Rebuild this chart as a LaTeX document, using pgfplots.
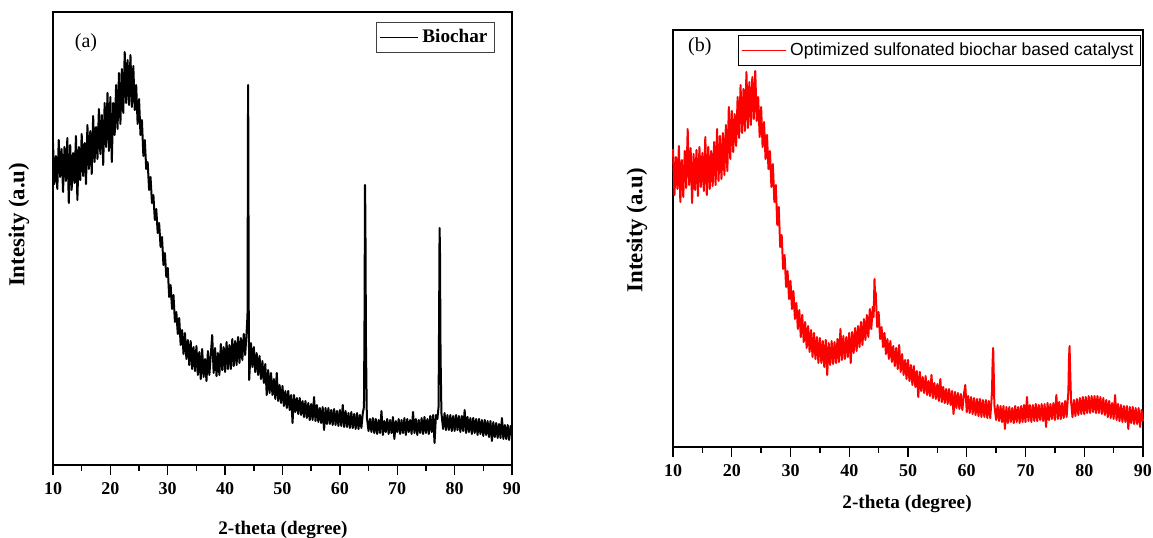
\documentclass[border=0pt]{standalone}
\usepackage{fontspec}
\setmainfont{Liberation Serif}
\newfontfamily\arialfont{Liberation Sans}
\usepackage{pgfplots}
\pgfplotsset{compat=1.18}
\pgfplotsset{
  xrdstyle/.style={
    scale only axis,
    xmin=10, xmax=90, ymin=0,
    xtick={10,20,...,90},
    minor x tick num=1,
    xtick pos=left,
    tick align=outside,
    major tick length=5pt, minor tick length=2.8pt,
    ytick=\empty,
    axis line style={line width=0.9pt},
    every tick/.style={black, line width=0.7pt},
    /pgf/number format/assume math mode=true,
    xticklabel style={font=\fontsize{9}{10}\selectfont\bfseries},
    xlabel style={font=\fontsize{9.6}{11}\selectfont\bfseries, anchor=center},
    ylabel style={font=\fontsize{11.4}{13}\selectfont\bfseries, anchor=center},
    clip=false,
  }
}
\begin{document}
\begin{tikzpicture}
\useasboundingbox (0pt,0pt) rectangle (576.5pt,268.5pt);
\begin{axis}[xrdstyle,
  at={(26.5pt,36pt)}, anchor=south west, width=229.5pt, height=226.5pt, ymax=453,
  xlabel={2-theta (degree)}, ylabel={Intesity (a.u)},
  xlabel style={at={(axis description cs:0.501,-0.143)}},
  ylabel style={at={(axis description cs:-0.074,0.530)}},
  legend style={at={(0.963,0.978)}, anchor=north east, draw=black!75, line width=0.5pt,
    font=\fontsize{9.6}{11}\selectfont\bfseries, inner sep=1.5pt, row sep=0pt},
  legend image code/.code={\draw[#1, line width=0.5pt] (0pt,0pt) -- (19pt,0pt);},
]
\addplot[black, line width=1pt, line join=round] coordinates {
(10,322)(10.25,281)(10.5,309)(10.75,276)
(11,325)(11.25,288)(11.5,316)(11.75,273)
(12,318)(12.25,284)(12.5,327)(12.75,262)
(13,320)(13.25,275)(13.5,312)(13.75,282)
(14,329)(14.25,265)(14.5,318)(14.75,285)
(15,331)(15.25,289)(15.5,322)(15.75,281)
(16,340)(16.25,296)(16.5,334)(16.75,291)
(17,349)(17.25,303)(17.5,338)(17.75,306)
(18,356)(18.25,311)(18.5,350)(18.75,300)
(19,362)(19.25,318)(19.5,372)(19.75,314)
(20,368)(20.25,303)(20.5,362)(20.75,330)
(21,380)(21.25,336)(21.5,392)(21.75,341)
(22,396)(22.25,352)(22.5,413)(22.75,362)
(23,405)(23.25,360)(23.5,410)(23.75,358)
(24,399)(24.25,355)(24.5,380)(24.75,341)
(25,366)(25.25,330)(25.5,345)(25.75,309)
(26,325)(26.25,296)(26.5,303)(26.75,275)
(27,288)(27.25,262)(27.5,270)(27.75,245)
(28,256)(28.25,232)(28.5,242)(28.75,218)
(29,228)(29.25,200)(29.5,212)(29.75,188)
(30,197)(30.25,168)(30.5,180)(30.75,156)
(31,170)(31.25,143)(31.5,153)(31.75,131)
(32,147)(32.25,120)(32.5,135)(32.75,111)
(33,132)(33.25,106)(33.5,125)(33.75,100)
(34,124)(34.25,96)(34.5,118)(34.75,94)
(35,119)(35.25,90)(35.5,113)(35.75,86)
(36,116)(36.25,88)(36.5,106)(36.75,84)
(37,114)(37.25,90)(37.5,110)(37.75,130)
(38,92)(38.25,117)(38.5,89)(38.75,112)
(39,90)(39.25,121)(39.5,95)(39.75,118)
(40,93)(40.25,123)(40.5,96)(40.75,120)
(41,96)(41.25,126)(41.5,99)(41.75,124)
(42,100)(42.25,128)(42.5,102)(42.75,127)
(43,105)(43.25,131)(43.5,110)(43.75,133)
(43.9,150)(43.95,260)(44,380)(44.05,330)(44.1,170)(44.2,85)(44.5,122)(44.75,98)
(45,118)(45.25,93)(45.5,112)(45.75,90)
(46,109)(46.25,86)(46.5,104)(46.75,82)
(47,101)(47.25,70)(47.5,95)(47.75,72)
(48,92)(48.25,70)(48.5,86)(48.75,66)
(49,92)(49.25,64)(49.5,80)(49.75,62)
(50,79)(50.25,59)(50.5,74)(50.75,57)
(51,74)(51.25,55)(51.5,70)(51.75,42)
(52,70)(52.25,53)(52.5,67)(52.75,51)
(53,67)(53.25,50)(53.5,64)(53.75,48)
(54,64)(54.25,47)(54.5,62)(54.75,45)
(55,61)(55.25,45)(55.5,68)(55.75,44)
(56,60)(56.25,43)(56.5,57)(56.75,42)
(57,58)(57.25,35)(57.5,57)(57.75,41)
(58,57)(58.25,41)(58.5,55)(58.75,40)
(59,56)(59.25,40)(59.5,54)(59.75,39)
(60,55)(60.25,39)(60.5,60)(60.75,38)
(61,54)(61.25,38)(61.5,52)(61.75,37)
(62,53)(62.25,37)(62.5,51)(62.75,36)
(63,52)(63.25,36)(63.5,50)(63.75,37)
(64,52)(64.2,58)(64.3,150)(64.38,280)(64.45,250)(64.55,120)(64.7,48)
(65,34)(65.25,46)(65.5,33)(65.75,47)
(66,32)(66.25,46)(66.5,31)(66.75,45)
(67,32)(67.25,54)(67.5,30)(67.75,44)
(68,33)(68.25,46)(68.5,31)(68.75,45)
(69,32)(69.25,48)(69.5,26)(69.75,44)
(70,33)(70.25,46)(70.5,31)(70.75,45)
(71,32)(71.25,47)(71.5,30)(71.75,46)
(72,33)(72.25,45)(72.5,31)(72.75,53)
(73,32)(73.25,46)(73.5,30)(73.75,45)
(74,32)(74.25,47)(74.5,31)(74.75,48)
(75,32)(75.25,46)(75.5,31)(75.75,49)
(76,33)(76.25,50)(76.5,22)(76.75,50)
(77,46)(77.2,58)(77.3,150)(77.38,237)(77.45,215)(77.55,110)(77.7,52)
(78,36)(78.25,52)(78.5,35)(78.75,50)
(79,35)(79.25,50)(79.5,34)(79.75,49)
(80,34)(80.25,50)(80.5,35)(80.75,49)
(81,33)(81.25,49)(81.5,34)(81.75,55)
(82,32)(82.25,48)(82.5,33)(82.75,47)
(83,31)(83.25,47)(83.5,32)(83.75,46)
(84,30)(84.25,46)(84.5,31)(84.75,45)
(85,29)(85.25,45)(85.5,30)(85.75,44)
(86,28)(86.25,44)(86.5,24)(86.75,43)
(87,28)(87.25,42)(87.5,27)(87.75,41)
(88,27)(88.25,47)(88.5,26)(88.75,40)
(89,26)(89.25,40)(89.5,25)(89.75,39)
(90,30)
};
\addlegendentry{Biochar}
\node[font=\fontsize{10}{12}\selectfont] at (rel axis cs:0.072,0.932) {(a)};
\end{axis}

\begin{axis}[xrdstyle,
  at={(336.5pt,45pt)}, anchor=south west, width=235pt, height=208.5pt, ymax=417,
  xlabel={2-theta (degree)}, ylabel={Intesity (a.u)},
  xlabel style={at={(axis description cs:0.498,-0.137)}},
  ylabel style={at={(axis description cs:-0.077,0.520)}},
  legend style={at={(0.996,0.988)}, anchor=north east, draw=black, line width=0.5pt,
    font=\fontsize{8.75}{10}\selectfont\arialfont, inner sep=1.5pt},
  legend image code/.code={\draw[#1, line width=0.5pt] (0pt,0pt) -- (22pt,0pt);},
]
\addplot[red, line width=1pt, line join=round] coordinates {
(10,298)(10.25,252)(10.5,290)(10.75,258)
(11,301)(11.25,245)(11.5,287)(11.75,250)
(12,296)(12.25,259)(12.5,318)(12.75,262)
(13,299)(13.25,244)(13.5,293)(13.75,257)
(14,297)(14.25,251)(14.5,300)(14.75,260)
(15,294)(15.25,256)(15.5,310)(15.75,252)
(16,300)(16.25,258)(16.5,296)(16.75,261)
(17,305)(17.25,262)(17.5,318)(17.75,266)
(18,311)(18.25,268)(18.5,314)(18.75,272)
(19,322)(19.25,276)(19.5,340)(19.75,288)
(20,336)(20.25,295)(20.5,333)(20.75,301)
(21,350)(21.25,309)(21.5,362)(21.75,314)
(22,358)(22.25,316)(22.5,375)(22.75,319)
(23,365)(23.25,322)(23.5,370)(23.75,328)
(24,376)(24.25,326)(24.5,350)(24.75,310)
(25,340)(25.25,300)(25.5,325)(25.75,288)
(26,312)(26.25,278)(26.5,296)(26.75,260)
(27,283)(27.25,245)(27.5,262)(27.75,222)
(28,240)(28.25,200)(28.5,212)(28.75,178)
(29,192)(29.25,160)(29.5,176)(29.75,148)
(30,166)(30.25,138)(30.5,156)(30.75,128)
(31,144)(31.25,118)(31.5,137)(31.75,110)
(32,132)(32.25,105)(32.5,125)(32.75,99)
(33,121)(33.25,95)(33.5,117)(33.75,90)
(34,114)(34.25,88)(34.5,110)(34.75,84)
(35,109)(35.25,84)(35.5,106)(35.75,80)
(36,107)(36.25,72)(36.5,104)(36.75,82)
(37,106)(37.25,83)(37.5,105)(37.75,84)
(38,108)(38.25,85)(38.5,118)(38.75,87)
(39,111)(39.25,88)(39.5,110)(39.75,90)
(40,114)(40.25,84)(40.5,115)(40.75,94)
(41,119)(41.25,96)(41.5,121)(41.75,100)
(42,125)(42.25,102)(42.5,128)(42.75,107)
(43,132)(43.25,110)(43.5,138)(43.75,118)
(44,140)(44.15,130)(44.3,168)(44.4,150)(44.5,155)(44.75,120)
(45,135)(45.25,108)(45.5,120)(45.75,100)
(46,114)(46.25,93)(46.5,108)(46.75,88)
(47,106)(47.25,85)(47.5,101)(47.75,81)
(48,99)(48.25,78)(48.5,102)(48.75,75)
(49,93)(49.25,72)(49.5,87)(49.75,68)
(50,87)(50.25,66)(50.5,82)(50.75,62)
(51,81)(51.25,60)(51.5,76)(51.75,50)
(52,75)(52.25,56)(52.5,70)(52.75,54)
(53,71)(53.25,52)(53.5,66)(53.75,51)
(54,72)(54.25,49)(54.5,64)(54.75,48)
(55,63)(55.25,46)(55.5,68)(55.75,45)
(56,60)(56.25,44)(56.5,58)(56.75,43)
(57,58)(57.25,42)(57.5,56)(57.75,33)
(58,55)(58.25,39)(58.5,54)(58.75,38)
(59,53)(59.25,37)(59.5,52)(59.75,62)
(60,35)(60.25,51)(60.5,34)(60.75,50)
(61,33)(61.25,49)(61.5,32)(61.75,48)
(62,31)(62.25,48)(62.5,30)(62.75,47)
(63,30)(63.25,47)(63.5,29)(63.75,46)
(64,29)(64.2,46)(64.3,55)(64.4,85)(64.5,99)(64.6,72)(64.7,42)
(65,27)(65.25,42)(65.5,26)(65.75,41)
(66,25)(66.25,41)(66.5,18)(66.75,40)
(67,24)(67.25,40)(67.5,25)(67.75,39)
(68,24)(68.25,41)(68.5,25)(68.75,40)
(69,24)(69.25,41)(69.5,25)(69.75,42)
(70,25)(70.25,50)(70.5,26)(70.75,42)
(71,25)(71.25,42)(71.5,26)(71.75,43)
(72,26)(72.25,42)(72.5,27)(72.75,43)
(73,26)(73.25,43)(73.5,20)(73.75,44)
(74,27)(74.25,43)(74.5,28)(74.75,44)
(75,27)(75.25,52)(75.5,28)(75.75,45)
(76,28)(76.25,44)(76.5,29)(76.75,46)
(77,30)(77.2,48)(77.3,55)(77.4,88)(77.5,101)(77.6,78)(77.75,46)
(78,30)(78.25,47)(78.5,31)(78.75,48)
(79,32)(79.25,49)(79.5,33)(79.75,50)
(80,33)(80.25,50)(80.5,34)(80.75,51)
(81,34)(81.25,51)(81.5,35)(81.75,51)
(82,34)(82.25,51)(82.5,34)(82.75,50)
(83,33)(83.25,49)(83.5,32)(83.75,47)
(84,30)(84.25,46)(84.5,29)(84.75,44)
(85,28)(85.25,52)(85.5,27)(85.75,43)
(86,26)(86.25,42)(86.5,25)(86.75,41)
(87,25)(87.25,41)(87.5,18)(87.75,40)
(88,24)(88.25,40)(88.5,23)(88.75,39)
(89,23)(89.25,39)(89.5,20)(89.75,37)
(90,26)
};
\addlegendentry{Optimized sulfonated biochar based catalyst}
\node[font=\fontsize{10}{12}\selectfont] at (rel axis cs:0.057,0.959) {(b)};
\end{axis}
\end{tikzpicture}
\end{document}
